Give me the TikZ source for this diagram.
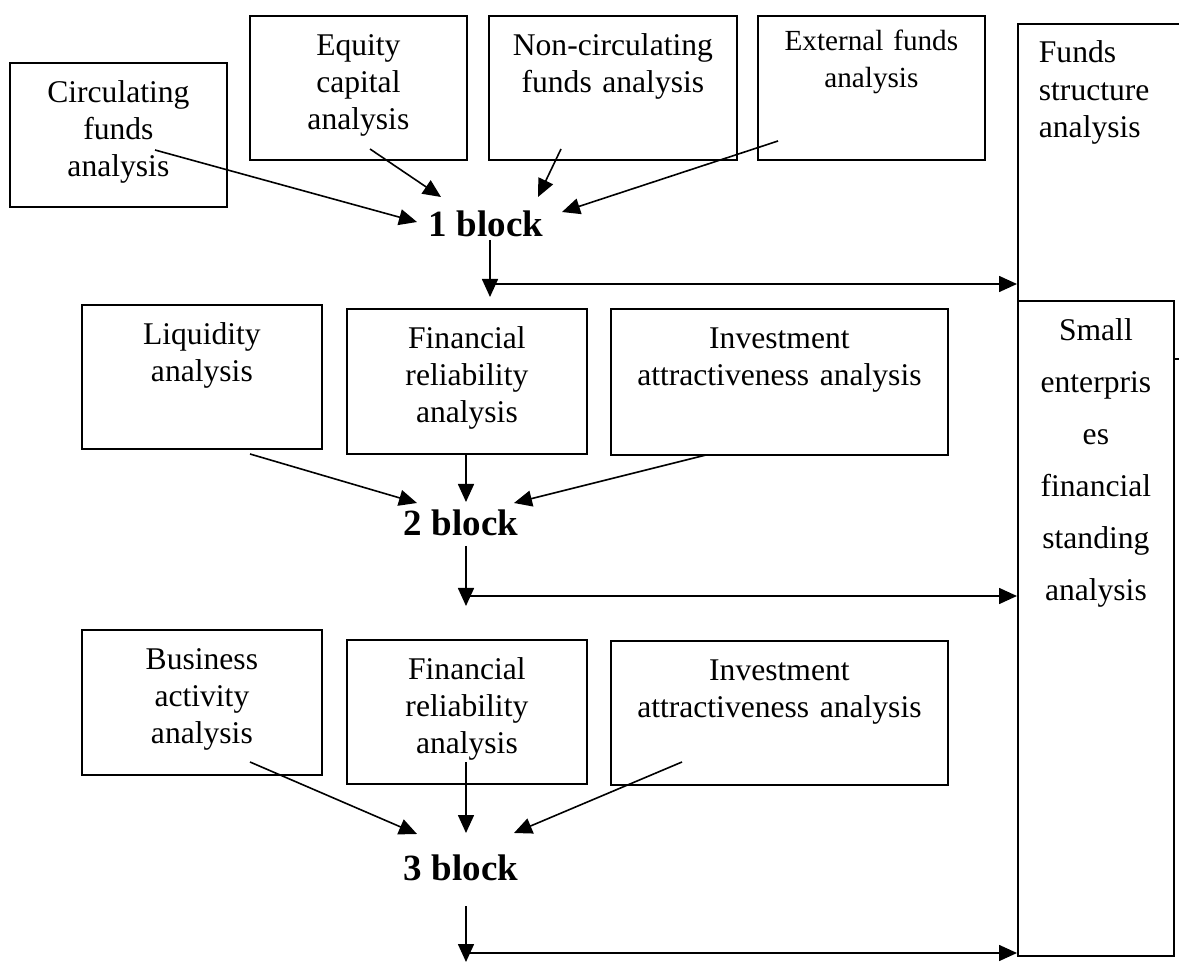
\documentclass[tikz,border=0pt]{standalone}
\usepackage{fontspec}
\setmainfont{Liberation Serif}
\usetikzlibrary{arrows.meta,positioning}

\tikzset{
  anbox/.style={draw, line width=0.9pt, inner xsep=0pt, inner ysep=0pt,
    align=center, anchor=north west, text height=20pt,
    font=\fontsize{15.8}{18.35}\selectfont},
  blocklabel/.style={font=\bfseries\fontsize{18.5}{22}\selectfont, anchor=base, inner sep=2pt}
}

\begin{document}
\begin{tikzpicture}[x=0.5pt,y=-0.5pt]
	\path[fill=white] (0,0) rectangle (1179,962);
	\useasboundingbox (0,0) rectangle (1179,962);

	\begin{scope}[every node/.style={anbox}]
		% first row
		\node[text width=108.5pt, text depth=52pt] (circ) at (9,62) {Circulating\\funds\\analysis};
		\node[text width=108.5pt, text depth=52pt] (equity) at (249,15) {Equity\\capital\\analysis};
		\node[text width=124pt, text depth=52pt] (noncirc) at (488,15) {Non-circulating\\funds analysis};
		\node[text width=113.5pt, text height=17.5pt, text depth=54.5pt,
			font=\fontsize{14.6}{18.5}\selectfont] (external) at (757,15) {External funds\\analysis};
		\node[text width=70.5pt, inner xsep=10.5pt, align=left, text height=19.5pt, text depth=148pt,
			font=\fontsize{15.8}{18.75}\selectfont] (funds) at (1017,23) {Funds\\structure\\analysis};
		% second row
		\node[text width=120pt, text depth=52pt] (liq) at (81,304) {Liquidity\\analysis};
		\node[text width=120pt, text depth=52.5pt] (fin) at (346,308) {Financial\\reliability\\analysis};
		\node[text width=168.5pt, text depth=53pt] (inv) at (610,308) {Investment\\attractiveness analysis};
		% third row
		\node[text width=120pt, text depth=52.5pt] (bus) at (81,629) {Business\\activity\\analysis};
		\node[text width=120pt, text depth=52pt] (fintwo) at (346,639) {Financial\\reliability\\analysis};
		\node[text width=168.5pt, text depth=52pt] (invtwo) at (610,640) {Investment\\attractiveness analysis};
		% right column
		\node[fill=white, text width=78pt, text depth=307.5pt,
			font=\fontsize{15.8}{26}\selectfont] (small) at (1017,300) {Small\\enterpris\\es\\financial\\standing\\analysis};
	\end{scope}

	\node[blocklabel] (b1) at (486,237) {1 block};
	\node[blocklabel] (b2) at (461,536) {2 block};
	\node[blocklabel] (b3) at (461,880) {3 block};

	% arrow ends
	\coordinate (circ-tail) at (155,150);
	\coordinate (equity-tail) at (370,149);
	\coordinate (noncirc-tail) at (561,149);
	\coordinate (external-tail) at (778,141);
	\coordinate (b1-in1) at (417,222);
	\coordinate (b1-in2) at (441,197);
	\coordinate (b1-in3) at (538,197);
	\coordinate (b1-in4) at (562,212);
	\coordinate (b1-out) at (490,240);
	\coordinate (b1-turn) at (490,284);
	\coordinate (b1-end) at (490,297);

	\coordinate (liq-tail) at (250,454);
	\coordinate (fin-tail) at (466,455);
	\coordinate (inv-tail) at (706,455);
	\coordinate (b2-in1) at (417,503);
	\coordinate (b2-in2) at (466,502);
	\coordinate (b2-in3) at (514,503);
	\coordinate (b2-out) at (466,546);
	\coordinate (b2-turn) at (466,596);
	\coordinate (b2-end) at (466,606);

	\coordinate (bus-tail) at (250,762);
	\coordinate (fintwo-tail) at (466,762);
	\coordinate (invtwo-tail) at (682,762);
	\coordinate (b3-in1) at (417,834);
	\coordinate (b3-in2) at (466,833);
	\coordinate (b3-in3) at (514,833);
	\coordinate (b3-out) at (466,906);
	\coordinate (b3-turn) at (466,953);
	\coordinate (b3-end) at (466,962);

	\begin{scope}[>={Triangle[length=9pt,width=8pt]}, line width=0.8pt]
		\draw[->] (circ-tail) -- (b1-in1);
		\draw[->] (equity-tail) -- (b1-in2);
		\draw[->] (noncirc-tail) -- (b1-in3);
		\draw[->] (external-tail) -- (b1-in4);
		\draw[->] (b1-out) -- (b1-end);
		\draw[->] (b1-turn) -- (b1-turn -| funds.west);

		\draw[->] (liq-tail) -- (b2-in1);
		\draw[->] (fin-tail) -- (b2-in2);
		\draw[->] (inv-tail) -- (b2-in3);
		\draw[->] (b2-out) -- (b2-end);
		\draw[->] (b2-turn) -- (b2-turn -| small.west);

		\draw[->] (bus-tail) -- (b3-in1);
		\draw[->] (fintwo-tail) -- (b3-in2);
		\draw[->] (invtwo-tail) -- (b3-in3);
		\draw[->] (b3-out) -- (b3-end);
		\draw[->] (b3-turn) -- (b3-turn -| small.west);
	\end{scope}
\end{tikzpicture}
\end{document}
